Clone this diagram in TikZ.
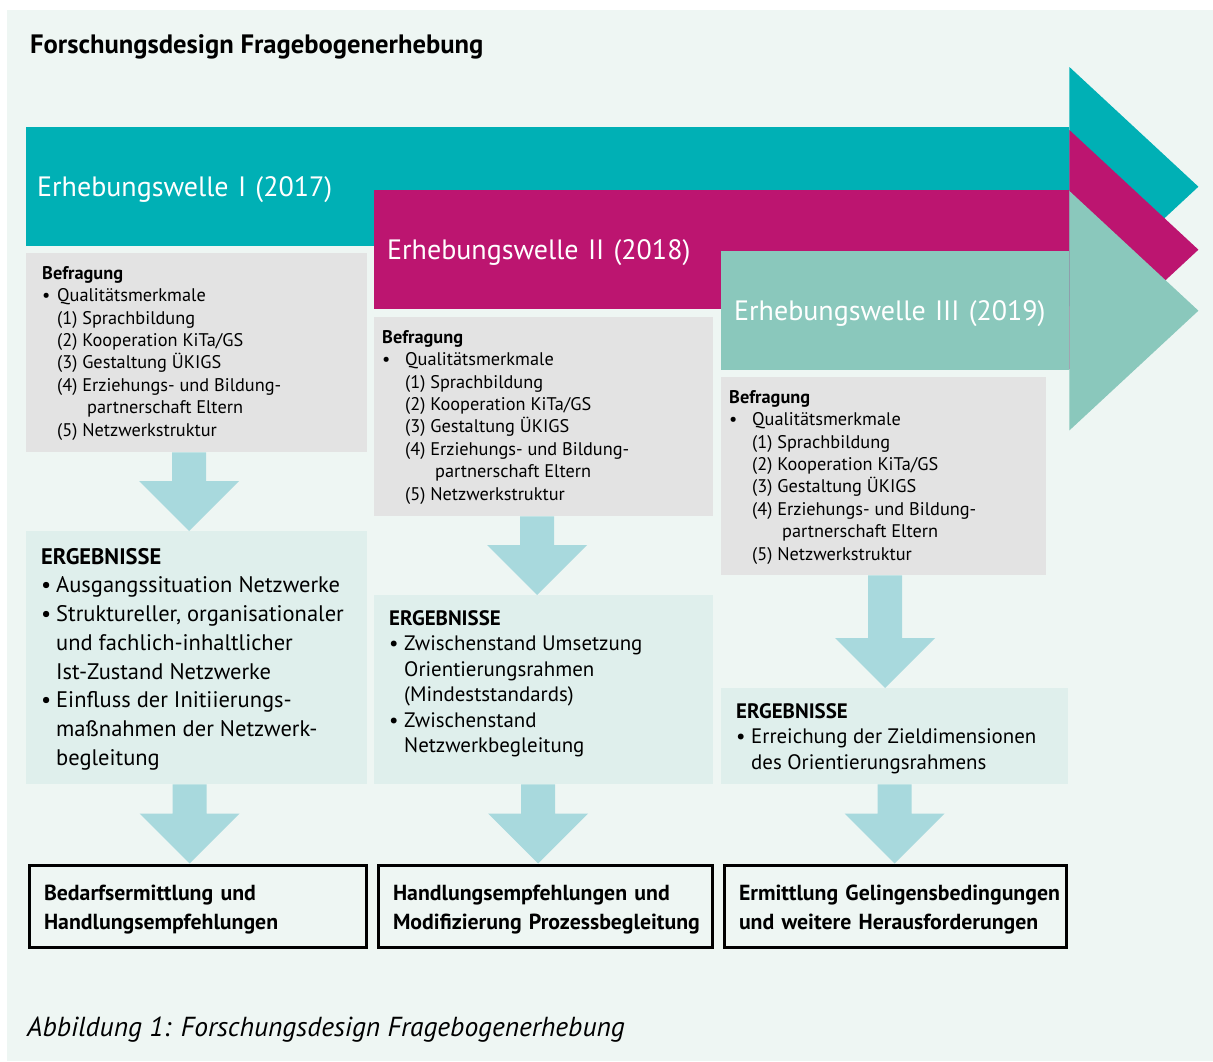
\documentclass[tikz,border=0pt]{standalone}
\usepackage{fontspec}
\setmainfont{PT Sans}
\usetikzlibrary{positioning,calc}

\definecolor{bgmint}{RGB}{238,246,243}
\definecolor{waveone}{RGB}{0,176,181}
\definecolor{wavetwo}{RGB}{188,21,112}
\definecolor{wavethree}{RGB}{138,200,188}
\definecolor{surveygrey}{RGB}{227,227,227}
\definecolor{resultmint}{RGB}{223,239,236}
\definecolor{flowblue}{RGB}{168,217,221}

\tikzset{
  wave/.style={anchor=north west, minimum height=119pt, inner ysep=0pt, align=left,
    text depth=0pt, text=white, font=\fontsize{28}{34}\selectfont},
  surveybox/.style={anchor=north west, fill=surveygrey, inner sep=0pt},
  resultbox/.style={anchor=north west, fill=resultmint, inner sep=0pt},
  surveytext/.style={inner sep=0pt, align=left, font=\fontsize{18.3}{22.4}\selectfont},
  resulttext/.style={inner sep=0pt, align=left, font=\fontsize{20.9}{25.5}\selectfont},
  outcome/.style={anchor=north west, draw=black, line width=3pt, minimum height=82pt,
    inner xsep=15pt, inner ysep=0pt, align=left,
    font=\fontsize{21.8}{29}\selectfont\bfseries}
}

% block arrow from one box down to the next
\newcommand{\flowarrow}[3][0]{%
  \fill[flowblue] let \p1=($(#2.south)+(#1,0)$), \p2=($(#3.north)+(#1,0)$) in
    (\x1-17pt,\y1) -- (\x1+17pt,\y1) -- (\x1+17pt,\y2+50pt) -- (\x1+50pt,\y2+50pt)
    -- (\x1,\y2) -- (\x1-50pt,\y2+50pt) -- (\x1-17pt,\y2+50pt) -- cycle;%
}

% first line of an outcome box, a little lower
\newcommand{\outcomeline}[1]{\rule{0pt}{22pt}\mbox{#1}}

% items of one Befragung box
\newcommand{\surveyitems}[2]{%
  \textbf{Befragung}\\
  \makebox[#1][l]{\textbullet}Qualitätsmerkmale\\
  \hspace*{#1}(1) Sprachbildung\\
  \hspace*{#1}(2) Kooperation KiTa/GS\\
  \hspace*{#1}(3) Gestaltung ÜKIGS\\
  \hspace*{#1}(4) Erziehungs- und Bildung-\\
  \hspace*{#2}partnerschaft Eltern\\
  \hspace*{#1}(5) Netzwerkstruktur}

\begin{document}
\begin{tikzpicture}[x=1pt,y=-1pt]
  \useasboundingbox (0,0) rectangle (1213,1061);
  \fill[bgmint] (7,10) rectangle (1213,1061);

  % Title
  \node[anchor=base west, inner sep=0pt, font=\fontsize{26.6}{32}\selectfont\bfseries] (title)
    at (30,53) {Forschungsdesign Fragebogenerhebung};

  % Drawing wave I
  \node[wave, fill=waveone, text width=1021pt, inner xsep=11pt] (w1) at (26,127) {Erhebungswelle I (2017)};
  \fill[waveone] (w1.north east) -- ++(0,-60) -- ($(w1.east)+(129,0)$)
    -- ($(w1.south east)+(0,60)$) -- (w1.south east) -- cycle;

  % Drawing wave II
  \node[wave, fill=wavetwo, text width=669pt, inner xsep=13pt] (w2) at (374,190) {Erhebungswelle II (2018)};
  \fill[wavetwo] (w2.north east) -- ++(0,-60) -- ($(w2.east)+(129,0)$)
    -- ($(w2.south east)+(0,60)$) -- (w2.south east) -- cycle;

  % Drawing wave III
  \node[wave, fill=wavethree, text width=322pt, inner xsep=13pt] (w3) at (721,251) {Erhebungswelle III (2019)};
  \fill[wavethree] (w3.north east) -- ++(0,-60) -- ($(w3.east)+(129,0)$)
    -- ($(w3.south east)+(0,60)$) -- (w3.south east) -- cycle;

  % Befragung boxes
  \node[surveybox, minimum width=341pt, minimum height=199pt] (g1) at (26,253) {};
  \node[surveytext, below right=13pt and 16pt of g1.north west] (g1txt) {\surveyitems{15pt}{45pt}};
  \node[surveybox, minimum width=339pt, minimum height=199pt] (g2) at (374,317) {};
  \node[surveytext, below right=13pt and 8pt of g2.north west] (g2txt) {\surveyitems{23pt}{53pt}};
  \node[surveybox, minimum width=325pt, minimum height=198pt] (g3) at (721,377) {};
  \node[surveytext, below right=13pt and 8pt of g3.north west] (g3txt) {\surveyitems{23pt}{53pt}};

  % Ergebnisse boxes
  \node[resultbox, minimum width=341pt, minimum height=253pt] (r1) at (26,531) {};
  \node[resulttext, font=\fontsize{22.5}{28.7}\selectfont, below right=17pt and 15pt of r1.north west] (r1txt) {%
    \textbf{ERGEBNISSE}\\
    \makebox[15pt][l]{\textbullet}Ausgangssituation Netzwerke\\
    \makebox[15pt][l]{\textbullet}Struktureller, organisationaler\\
    \hspace*{15pt}und fachlich-inhaltlicher\\
    \hspace*{15pt}Ist-Zustand Netzwerke\\
    \makebox[15pt][l]{\textbullet}Einfluss der Initiierungs-\\
    \hspace*{15pt}maßnahmen der Netzwerk-\\
    \hspace*{15pt}begleitung};
  \node[resultbox, minimum width=339pt, minimum height=189pt] (r2) at (374,595) {};
  \node[resulttext, below right=15pt and 15pt of r2.north west] (r2txt) {%
    \textbf{ERGEBNISSE}\\
    \makebox[15pt][l]{\textbullet}Zwischenstand Umsetzung\\
    \hspace*{15pt}Orientierungsrahmen\\
    \hspace*{15pt}(Mindeststandards)\\
    \makebox[15pt][l]{\textbullet}Zwischenstand\\
    \hspace*{15pt}Netzwerkbegleitung};
  \node[resultbox, minimum width=347pt, minimum height=96pt] (r3) at (721,688) {};
  \node[resulttext, below right=15pt and 15pt of r3.north west] (r3txt) {%
    \textbf{ERGEBNISSE}\\
    \makebox[15pt][l]{\textbullet}Erreichung der Zieldimensionen\\
    \hspace*{15pt}des Orientierungsrahmens};

  % Outcome boxes
  \node[outcome, text width=307pt] (f1) at (27.5,863.5) {\outcomeline{Bedarfsermittlung und}\\\mbox{Handlungsempfehlungen}};
  \node[outcome, text width=304pt] (f2) at (376.5,863.5) {\outcomeline{Handlungsempfehlungen und}\\\mbox{Modifizierung Prozessbegleitung}};
  \node[outcome, text width=312pt] (f3) at (722.5,863.5) {\outcomeline{Ermittlung Gelingensbedingungen}\\\mbox{und weitere Herausforderungen}};

  % Flow arrows
  \flowarrow[-7.5]{g1}{r1}
  \flowarrow[-7]{r1}{f1}
  \flowarrow[-6.5]{g2}{r2}
  \flowarrow[-5.5]{r2}{f2}
  \flowarrow[1.5]{g3}{r3}
  \flowarrow[0]{r3}{f3}

  % Caption
  \node[anchor=base west, inner sep=0pt, font=\fontsize{27.5}{33}\selectfont\itshape] (caption)
    at (27,1036) {Abbildung 1: Forschungsdesign Fragebogenerhebung};
\end{tikzpicture}
\end{document}
